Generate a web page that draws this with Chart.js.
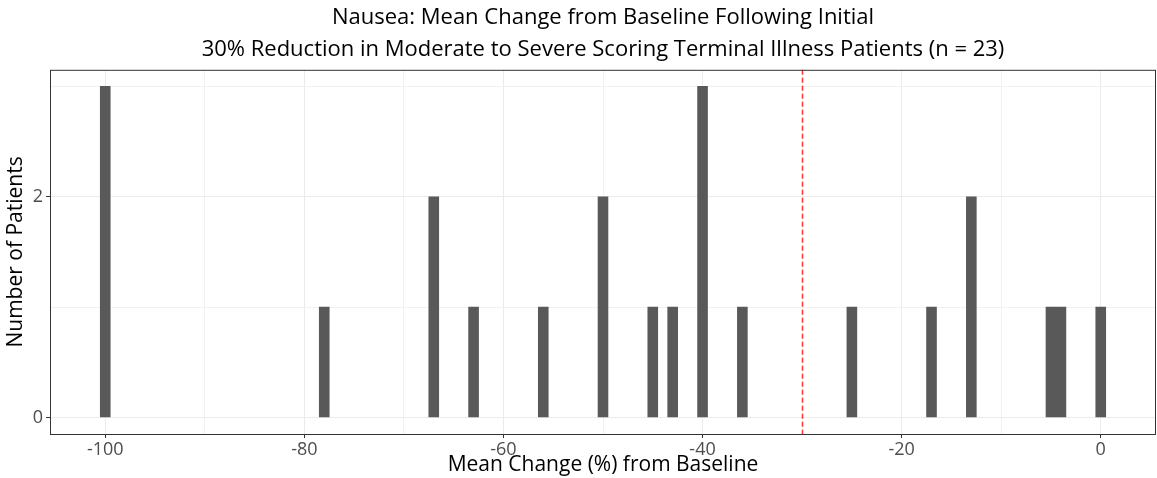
<!DOCTYPE html>
<html>
<head>
<meta charset="utf-8">
<script src="https://cdn.jsdelivr.net/npm/chart.js@4"></script>
<style>
  html, body { margin: 0; padding: 0; background: #fff; }
  #wrap { width: 1157px; height: 478px; position: relative; }
</style>
</head>
<body>
<div id="wrap"><canvas id="chart"></canvas></div>
<script>
// Histogram bins (1% wide)
const binCentres = [-100, -78, -67, -63, -56, -50, -45, -43, -40, -36, -25, -17, -13, -5, -4, 0];
const patientCounts = [3, 1, 2, 1, 1, 2, 1, 1, 3, 1, 1, 1, 2, 1, 1, 1];
const xTickLabels = [-100, -80, -60, -40, -20, 0];
const yTickLabels = [0, 2];
const threshold = -30;

const FONT = "'Open Sans', sans-serif";

// panel border + dashed 30% reduction line
const panelPlugin = {
  id: 'panel',
  afterDatasetsDraw(chart) {
    const { ctx, chartArea, scales } = chart;
    const x = Math.round(scales.x.getPixelForValue(threshold)) + 0.5;
    ctx.save();
    ctx.strokeStyle = '#ff3333';
    ctx.lineWidth = 1.5;
    ctx.setLineDash([5, 3]);
    ctx.beginPath();
    ctx.moveTo(x, chartArea.top);
    ctx.lineTo(x, chartArea.bottom);
    ctx.stroke();
    ctx.setLineDash([]);
    ctx.strokeStyle = '#333333';
    ctx.lineWidth = 1;
    ctx.strokeRect(chartArea.left + 0.5, chartArea.top + 0.5,
      chartArea.right - chartArea.left - 1, chartArea.bottom - chartArea.top);
    ctx.restore();
  }
};

const points = binCentres.map((b, i) => ({ x: b, y: patientCounts[i] }));

new Chart(document.getElementById('chart'), {
  type: 'bar',
  data: {
    datasets: [{
      data: points,
      backgroundColor: '#595959',
      borderWidth: 0,
      barPercentage: 1,
      categoryPercentage: 1,
    }]
  },
  plugins: [panelPlugin],
  options: {
    responsive: true,
    maintainAspectRatio: false,
    animation: false,
    layout: { padding: { left: 0, right: 1, top: 0, bottom: 0 } },
    plugins: {
      legend: { display: false },
      tooltip: { enabled: false },
      title: {
        display: true,
        fullSize: false,
        text: [
          'Nausea: Mean Change from Baseline Following Initial',
          '30% Reduction in Moderate to Severe Scoring Terminal Illness Patients (n = 23)'
        ],
        color: '#000',
        font: { family: FONT, size: 22, weight: 'normal', lineHeight: 1.45 },
        padding: { top: 2, bottom: 4 },
      },
    },
    scales: {
      x: {
        type: 'linear',
        min: -105.55,
        max: 5.55,
        offset: false,
        afterFit(scale) { scale.height = 44; },
        border: { display: false },
        grid: {
          offset: false,
          color: (c) => (c.tick && c.tick.value % 20 === 0) ? '#ebebeb' : '#f1f1f1',
          lineWidth: 1,
          tickColor: (c) => (c.tick && c.tick.value % 20 === 0) ? '#333333' : 'rgba(0,0,0,0)',
          tickLength: 4,
        },
        ticks: {
          stepSize: 10,
          includeBounds: false,
          autoSkip: false,
          maxRotation: 0,
          padding: 1,
          color: '#4d4d4d',
          font: { family: FONT, size: 18 },
          callback: (v) => xTickLabels.includes(v) ? String(v) : '',
        },
        title: {
          display: true,
          text: 'Mean Change (%) from Baseline',
          color: '#000',
          font: { family: FONT, size: 21, lineHeight: 1.2 },
          padding: { top: 0, bottom: 0 },
        },
      },
      y: {
        min: -0.15,
        max: 3.15,
        afterFit(scale) { scale.width = 50; },
        border: { display: false },
        grid: {
          color: (c) => (c.tick && c.tick.value % 2 === 0) ? '#ebebeb' : '#f1f1f1',
          lineWidth: 1,
          tickColor: (c) => (c.tick && c.tick.value % 2 === 0) ? '#333333' : 'rgba(0,0,0,0)',
          tickLength: 4,
        },
        ticks: {
          stepSize: 1,
          includeBounds: false,
          autoSkip: false,
          padding: 3,
          color: '#4d4d4d',
          font: { family: FONT, size: 18 },
          callback: (v) => yTickLabels.includes(v) ? String(v) : '',
        },
        title: {
          display: true,
          text: 'Number of Patients',
          color: '#000',
          font: { family: FONT, size: 21, lineHeight: 1.2 },
          padding: { top: 3, bottom: 0 },
        },
      },
    },
  },
});
</script>
</body>
</html>
